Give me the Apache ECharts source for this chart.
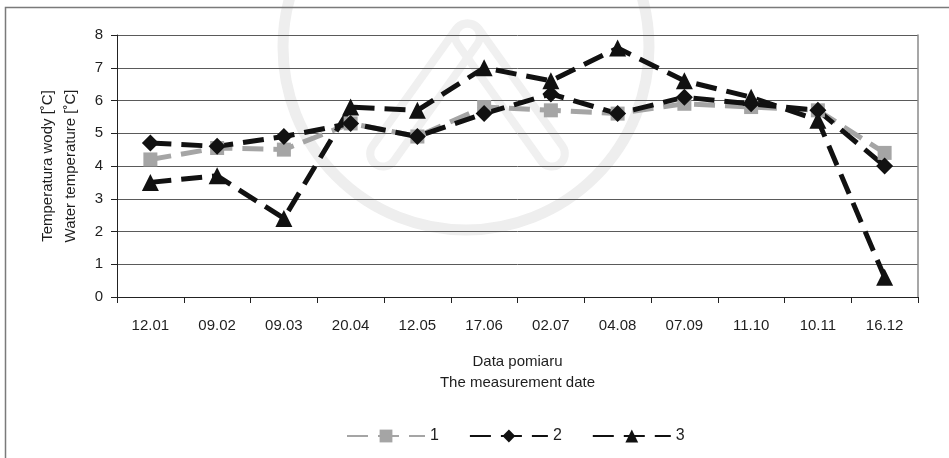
<!DOCTYPE html>
<html>
<head>
<meta charset="utf-8">
<script src="https://cdn.jsdelivr.net/npm/echarts@6/dist/echarts.min.js"></script>
<style>
  html, body { margin: 0; padding: 0; background: #fff; }
  #chart { width: 949px; height: 458px; }
</style>
</head>
<body>
<div id="chart"></div>
<script>
// Measurement dates (day.month)
const dates = ['12.01', '09.02', '09.03', '20.04', '12.05', '17.06', '02.07', '04.08', '07.09', '11.10', '10.11', '16.12'];

// Water temperature [°C] at the three sampling points
const site1 = [4.2, 4.55, 4.5, 5.3, 4.9, 5.8, 5.7, 5.6, 5.9, 5.8, 5.7, 4.4];
const site2 = [4.7, 4.6, 4.9, 5.3, 4.9, 5.6, 6.2, 5.6, 6.1, 5.9, 5.7, 4.0];
const site3 = [3.5, 3.7, 2.4, 5.8, 5.7, 7.0, 6.6, 7.6, 6.6, 6.1, 5.4, 0.6];

const seriesNames = ['1', '2', '3'];
const yTicks = { min: 0, max: 8, interval: 1 };

const FONT = '"Liberation Sans", Arial, sans-serif';
const TEXT = '#1e1e1e';
const DASH = [21, 10];

const chart = echarts.init(document.getElementById('chart'), null, { renderer: 'canvas' });

function lineSeries(name, data, color, symbol, size) {
  return {
    name: name,
    type: 'line',
    data: data,
    symbol: symbol,
    symbolSize: size,
    showAllSymbol: true,
    itemStyle: { color: color },
    lineStyle: { color: color, width: 5, type: DASH, cap: 'butt' },
    emphasis: { disabled: true },
    animation: false
  };
}

chart.setOption({
  animation: false,
  backgroundColor: '#fff',
  textStyle: { fontFamily: FONT, color: TEXT },
  graphic: [
    // faint stamp in the background
    {
      type: 'group', silent: true, z: -10,
      children: [
        { type: 'circle', shape: { cx: 466, cy: 47, r: 183 },
          style: { fill: 'none', stroke: '#eeeeee', lineWidth: 11 } },
        { type: 'rect', shape: { x: -13, y: -85, width: 26, height: 170, r: 13 },
          x: 425, y: 95, rotation: -0.62,
          style: { fill: 'none', stroke: '#f0f0f0', lineWidth: 8 } },
        { type: 'rect', shape: { x: -13, y: -85, width: 26, height: 170, r: 13 },
          x: 510, y: 95, rotation: 0.62,
          style: { fill: 'none', stroke: '#f0f0f0', lineWidth: 8 } }
      ]
    },
    // frame around the figure
    {
      type: 'polyline', silent: true, z: 100,
      shape: { points: [[5.5, 460], [5.5, 7.5], [949, 7.5]] },
      style: { fill: 'none', stroke: '#7a7a7a', lineWidth: 1.5 }
    }
  ],
  grid: { left: 117, right: 31, top: 35, bottom: 161, containLabel: false },
  legend: {
    bottom: 9,
    left: 341,
    itemWidth: 78,
    itemHeight: 16,
    itemGap: 30,
    data: seriesNames,
    textStyle: { fontFamily: FONT, fontSize: 16, color: TEXT },
    selectedMode: false
  },
  xAxis: {
    type: 'category',
    data: dates,
    boundaryGap: true,
    name: 'Data pomiaru\nThe measurement date',
    nameLocation: 'middle',
    nameGap: 54,
    nameTextStyle: { fontFamily: FONT, fontSize: 15, color: TEXT, lineHeight: 21 },
    axisLine: { show: true, lineStyle: { color: '#222', width: 1 } },
    axisTick: { show: true, interval: 0, length: 6, lineStyle: { color: '#222' } },
    axisLabel: { interval: 0, margin: 21, fontSize: 15, color: TEXT, fontFamily: FONT },
    splitLine: { show: false }
  },
  yAxis: [
    {
      type: 'value',
      min: yTicks.min,
      max: yTicks.max,
      interval: yTicks.interval,
      name: 'Temperatura wody [˚C]\nWater temperature [˚C]',
      nameLocation: 'middle',
      nameRotate: 90,
      nameGap: 35,
      nameTextStyle: { fontFamily: FONT, fontSize: 15, color: TEXT, lineHeight: 23 },
      axisLine: { show: true, lineStyle: { color: '#222', width: 1 } },
      axisTick: { show: true, length: 6, lineStyle: { color: '#222' } },
      axisLabel: { margin: 14, fontSize: 15, color: TEXT, fontFamily: FONT },
      splitLine: { show: true, lineStyle: { color: '#5a5a5a', width: 1 } }
    },
    {
      type: 'value',
      position: 'right',
      min: yTicks.min,
      max: yTicks.max,
      interval: yTicks.interval,
      axisLine: { show: true, lineStyle: { color: '#8a8a8a', width: 1.5 } },
      axisTick: { show: false },
      axisLabel: { show: false },
      splitLine: { show: false }
    }
  ],
  series: [
    lineSeries(seriesNames[0], site1, '#a5a5a5', 'rect', 14),
    lineSeries(seriesNames[1], site2, '#111111', 'diamond', 17),
    lineSeries(seriesNames[2], site3, '#111111', 'triangle', 17)
  ]
});
</script>
</body>
</html>
